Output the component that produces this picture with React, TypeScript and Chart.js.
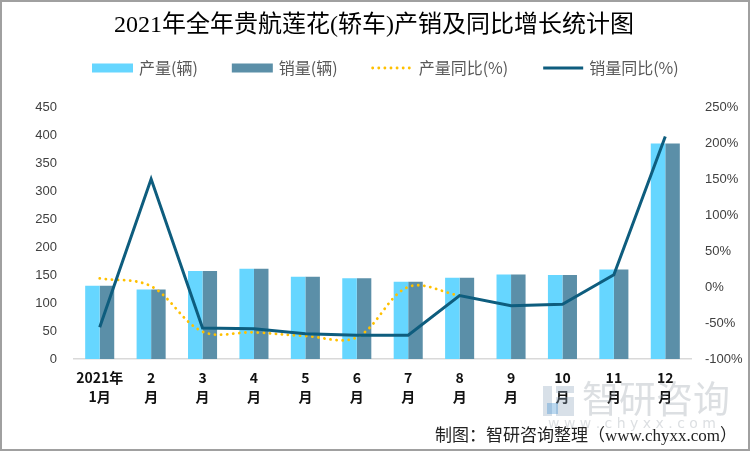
import React, { useEffect, useRef } from "react";
import { Chart, registerables } from "chart.js";

Chart.register(...registerables);

const titleText = "2021年全年贵航莲花(轿车)产销及同比增长统计图";
const sourceText = "制图：智研咨询整理（www.chyxx.com）";
const categories = [
  ["2021年", "1月"],
  ["2", "月"],
  ["3", "月"],
  ["4", "月"],
  ["5", "月"],
  ["6", "月"],
  ["7", "月"],
  ["8", "月"],
  ["9", "月"],
  ["10", "月"],
  ["11", "月"],
  ["12", "月"],
];
const production = [131, 124, 157, 161, 147, 144, 138, 145, 151, 150, 160, 385];
const sales = [131, 124, 157, 161, 147, 144, 138, 145, 151, 150, 160, 385];
const productionYoY = [12, 1, -62, -63, -68, -70, 0, -12, null, null, null, null];
const salesYoY = [-56, 150, -57, -58, -65, -67, -67, -12, -26, -24, 17, 209];
const leftTicks = [0, 50, 100, 150, 200, 250, 300, 350, 400, 450];
const rightTicks = [-100, -50, 0, 50, 100, 150, 200, 250];

const CJK = "'Noto Sans CJK SC'";
const SERIF = "'Liberation Serif','Noto Sans CJK SC'";

const decorPlugin = {
  id: "decor",
  afterDraw(chart: any) {
    const ctx: CanvasRenderingContext2D = chart.ctx;
    const W = chart.width;
    const H = chart.height;
    ctx.save();

    // title
    ctx.fillStyle = "#000";
    ctx.font = `24px ${SERIF}`;
    ctx.textAlign = "center";
    ctx.textBaseline = "middle";
    ctx.fillText(titleText, W / 2 - 1, 26);

    // legend
    ctx.font = `16px ${CJK}`;
    ctx.textAlign = "left";
    let x = 92;
    const y = 68;
    const boxW = 41;
    chart.data.datasets.forEach((ds: any) => {
      if (ds.type === "bar") {
        ctx.fillStyle = ds.backgroundColor;
        ctx.fillRect(x, y - 4.5, boxW, 9);
      } else {
        ctx.save();
        ctx.strokeStyle = ds.borderColor;
        ctx.lineWidth = ds.borderWidth;
        ctx.lineCap = ds.borderCapStyle || "butt";
        ctx.setLineDash(ds.borderDash || []);
        ctx.beginPath();
        ctx.moveTo(x + 1, y);
        ctx.lineTo(x + boxW, y);
        ctx.stroke();
        ctx.restore();
      }
      ctx.fillStyle = "#595959";
      ctx.fillText(ds.label, x + boxW + 6, y);
      x += boxW + 6 + ctx.measureText(ds.label).width + 34;
    });

    // watermark
    ctx.globalAlpha = 0.35;
    ctx.fillStyle = "#8fa6bd";
    ctx.fillRect(543, 386, 9, 30);
    ctx.fillRect(556, 386, 18, 7);
    ctx.fillRect(556, 397, 18, 19);
    ctx.fillStyle = "#3d8fd0";
    ctx.fillRect(547, 403, 11, 11);
    ctx.fillStyle = "#9aa3ab";
    ctx.font = `37px ${CJK}`;
    ctx.textBaseline = "middle";
    ctx.fillText("智研咨询", 582, 399);
    ctx.font = `14px 'DejaVu Sans'`;
    const wm = "w w w . c h y x x . c o m";
    ctx.fillText(wm, 548, 424);
    ctx.globalAlpha = 1;

    // source
    ctx.fillStyle = "#222";
    ctx.font = `17px ${SERIF}`;
    ctx.textAlign = "right";
    ctx.fillText(sourceText, 737, 437);

    // border
    ctx.strokeStyle = "#a0a0a0";
    ctx.lineWidth = 2;
    ctx.strokeRect(1, 1, W - 2, H - 2);
    ctx.restore();
  },
};

export default function App() {
  const ref = useRef<HTMLCanvasElement>(null);
  useEffect(() => {
    document.body.style.margin = "0";
    const canvas = ref.current!;
    const chart = new Chart(canvas, {
      type: "bar",
      data: {
        labels: categories,
        datasets: [
          {
            type: "bar",
            label: "产量(辆)",
            data: production,
            backgroundColor: "#66D6FF",
            yAxisID: "y",
            order: 3,
            categoryPercentage: 0.565,
            barPercentage: 1,
          },
          {
            type: "bar",
            label: "销量(辆)",
            data: sales,
            backgroundColor: "#5B8FA8",
            yAxisID: "y",
            order: 4,
            categoryPercentage: 0.565,
            barPercentage: 1,
          },
          {
            type: "line",
            label: "产量同比(%)",
            data: productionYoY,
            borderColor: "#FFC000",
            borderWidth: 2.8,
            borderDash: [0.1, 6],
            borderCapStyle: "round",
            pointRadius: 0,
            tension: 0.35,
            yAxisID: "y1",
            order: 1,
            spanGaps: false,
          },
          {
            type: "line",
            label: "销量同比(%)",
            data: salesYoY,
            borderColor: "#0E5D7E",
            borderWidth: 3,
            pointRadius: 0,
            tension: 0,
            yAxisID: "y1",
            order: 0,
          },
        ] as any,
      },
      options: {
        responsive: false,
        animation: false,
        layout: { padding: { top: 107, left: 0, right: 0, bottom: 0 } },
        plugins: {
          legend: { display: false },
          title: { display: false },
          tooltip: { enabled: false },
        },
        scales: {
          x: {
            grid: { display: false, drawTicks: false },
            border: { display: true, color: "#D9D9D9", width: 1.5 },
            ticks: {
              color: "#111",
              font: { family: CJK, size: 14, weight: "bold", lineHeight: 1.3 },
              padding: 10,
              maxRotation: 0,
              autoSkip: false,
            },
            afterFit(scale: any) {
              scale.height = 92;
            },
          },
          y: {
            position: "left",
            min: 0,
            max: 450,
            afterBuildTicks(scale: any) {
              scale.ticks = leftTicks.map((v) => ({ value: v }));
            },
            grid: { display: false, drawTicks: false },
            border: { display: false },
            ticks: {
              color: "#404040",
              font: { family: "'Liberation Sans'", size: 13 },
              padding: 17,
            },
            afterFit(scale: any) {
              scale.width = 74;
            },
          },
          y1: {
            position: "right",
            min: -100,
            max: 250,
            afterBuildTicks(scale: any) {
              scale.ticks = rightTicks.map((v) => ({ value: v }));
            },
            grid: { display: false, drawTicks: false },
            border: { display: false },
            ticks: {
              color: "#404040",
              font: { family: "'Liberation Sans'", size: 13 },
              padding: 14,
              callback: (v: any) => `${v}%`,
            },
            afterFit(scale: any) {
              scale.width = 59;
            },
          },
        },
      },
      plugins: [decorPlugin],
    });
    return () => chart.destroy();
  }, []);
  return (
    <canvas
      ref={ref}
      width={750}
      height={451}
      style={{ display: "block", width: 750, height: 451 }}
    />
  );
}
